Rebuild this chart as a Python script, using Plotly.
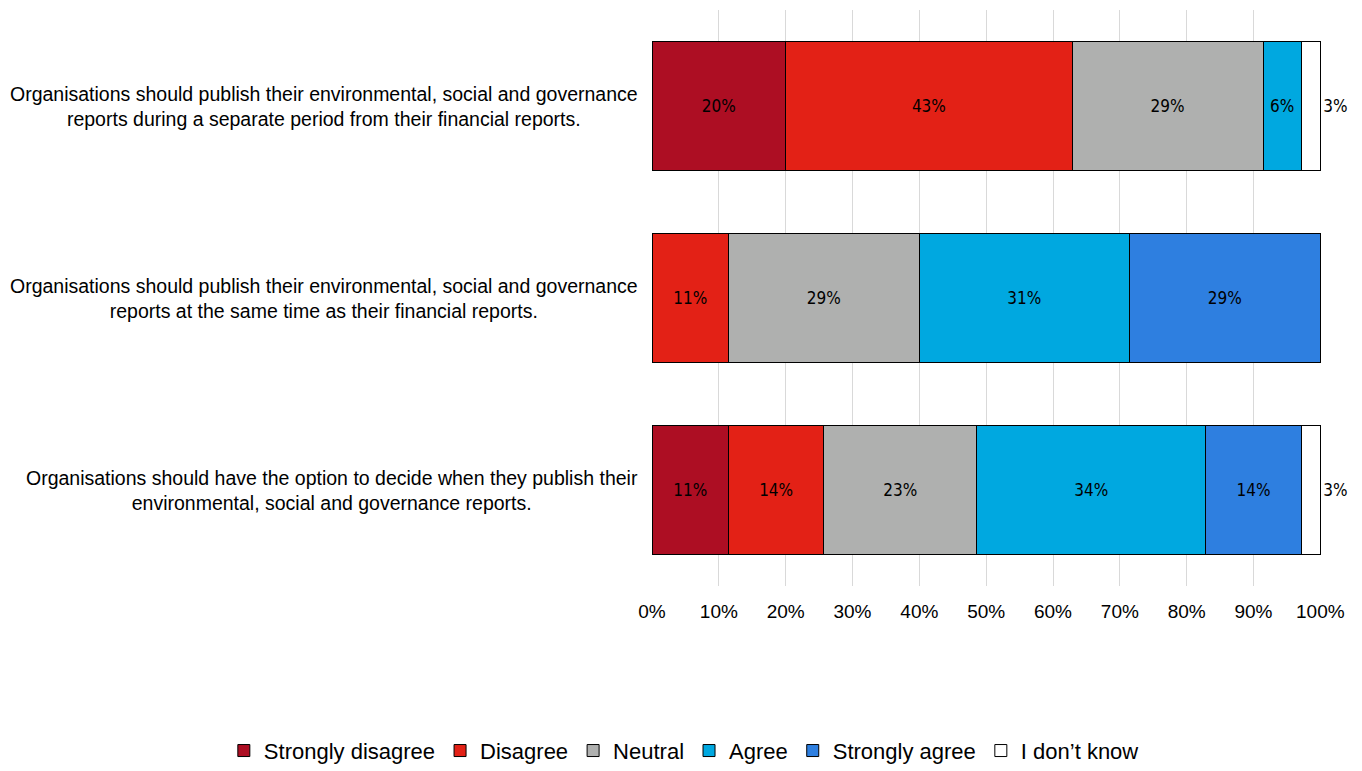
import plotly.graph_objects as go

# Survey statements (top to bottom)
statements = [
    "Organisations should publish their environmental, social and governance<br>reports during a separate period from their financial reports.",
    "Organisations should publish their environmental, social and governance<br>reports at the same time as their financial reports.",
    "Organisations should have the option to decide when they publish their<br>environmental, social and governance reports.",
]
cat_keys = ["S1", "S2", "S3"]

responses = ["Strongly disagree", "Disagree", "Neutral", "Agree", "Strongly agree", "I don\u2019t know"]

# Share of respondents (%) per response, one value per statement
strongly_disagree = [20.00, 0.00, 11.43]
disagree = [42.86, 11.43, 14.29]
neutral = [28.57, 28.57, 22.86]
agree = [5.71, 31.43, 34.28]
strongly_agree = [0.00, 28.57, 14.28]
dont_know = [2.86, 0.00, 2.86]

series = [strongly_disagree, disagree, neutral, agree, strongly_agree, dont_know]
colors = ["#AD0E23", "#E32116", "#AFB0AF", "#00A8E0", "#2E7FE0", "#FFFFFF"]

tick_vals = [0, 10, 20, 30, 40, 50, 60, 70, 80, 90, 100]
tick_text = [f"{v}%" for v in tick_vals]

label_font = "Liberation Sans Narrow, DejaVu Sans Condensed, Arial Narrow, sans-serif"
body_font = "Liberation Sans, Arial, sans-serif"

fig = go.Figure()
for name, vals, col in zip(responses, series, colors):
    last = name == responses[-1]
    fig.add_trace(go.Bar(
        name=name,
        y=cat_keys,
        x=vals,
        orientation="h",
        marker=dict(color=col, line=dict(color="#000000", width=1)),
        text=[f"{v:.0f}%" if v > 0 else "" for v in vals],
        textposition="outside" if last else "inside",
        insidetextanchor="middle",
        textangle=0,
        textfont=dict(family=label_font, size=17, color="#000000"),
        cliponaxis=False,
        hoverinfo="name+x",
    ))

for key, txt in zip(cat_keys, statements):
    fig.add_annotation(
        x=-0.018, xref="paper", xanchor="right",
        y=key, yref="y", yanchor="middle",
        text=txt, showarrow=False, align="center",
        font=dict(family=body_font, size=19.5, color="#000000"),
    )

fig.update_layout(
    barmode="stack",
    bargap=0.33,
    width=1362, height=771,
    margin=dict(l=652, r=41, t=10, b=185, autoexpand=False),
    paper_bgcolor="#FFFFFF",
    plot_bgcolor="#FFFFFF",
    uniformtext=dict(minsize=14, mode="show"),
    xaxis=dict(
        range=[0, 100.1],
        tickvals=tick_vals,
        ticktext=tick_text,
        showgrid=True,
        gridcolor="#D9D9D9",
        gridwidth=1,
        zeroline=False,
        showline=False,
        ticks="",
        ticklabelstandoff=12,
        tickfont=dict(family=body_font, size=19, color="#000000"),
    ),
    yaxis=dict(
        autorange="reversed",
        showticklabels=False,
        showgrid=False,
        zeroline=False,
        showline=False,
    ),
    legend=dict(
        orientation="h",
        x=-0.64, xanchor="left",
        y=-0.286, yanchor="middle",
        font=dict(family=body_font, size=22, color="#000000"),
        itemwidth=30,
        tracegroupgap=0,
        traceorder="normal",
    ),
)

fig.write_html("out.html")
